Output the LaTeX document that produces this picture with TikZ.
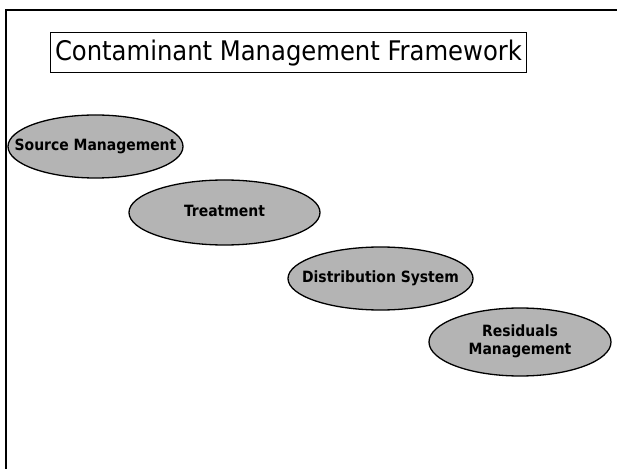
\documentclass[tikz,border=0pt]{standalone}
\usepackage{fontspec}
\setmainfont{DejaVu Sans Condensed}
\usetikzlibrary{shapes.geometric}
\definecolor{stipple}{RGB}{180,180,180}
\newcommand\phaselabel[1]{\makebox[0pt]{\begin{tabular}{@{}c@{}}#1\end{tabular}}}
\tikzset{
  phase/.style={ellipse, draw=black, line width=1.3bp, fill=stipple, inner sep=0pt,
    font=\bfseries\fontsize{15.5bp}{18bp}\selectfont},
  titlebox/.style={draw=black, line width=1bp, inner sep=0pt,
    font=\fontsize{27bp}{30bp}\selectfont},
  frameline/.style={line width=2.2bp, black}
}
\begin{document}
\begin{tikzpicture}[x=1bp,y=-1bp]
\useasboundingbox (0,0) rectangle (617,469);
\coordinate (fl) at (6,469);
\coordinate (fc) at (6,10);
\coordinate (fr) at (617,10);
\draw[frameline] (fl) -- (fc) -- (fr);
\node[titlebox, minimum width=475bp, minimum height=40bp] (title) at (288.5,53) {Contaminant Management Framework};
\node[phase, minimum width=175bp, minimum height=63bp] (src) at (95.5,146.5) {\phaselabel{Source Management}};
\node[phase, minimum width=191bp, minimum height=65bp] (treat) at (224.5,212.5) {\phaselabel{Treatment}};
\node[phase, minimum width=185bp, minimum height=63bp] (dist) at (380.5,278.5) {\phaselabel{Distribution System}};
\node[phase, minimum width=182bp, minimum height=68bp] (resid) at (520,342) {\phaselabel{Residuals\\Management}};
\end{tikzpicture}
\end{document}
